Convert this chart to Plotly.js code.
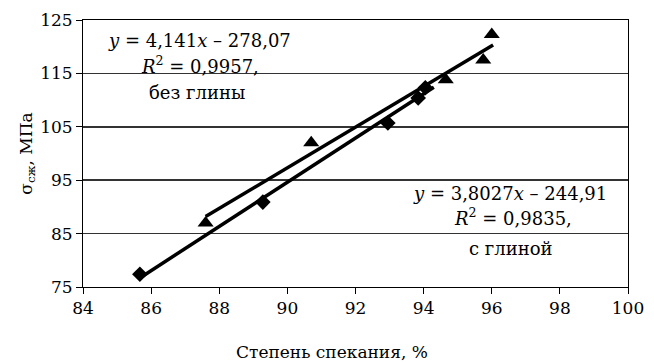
<!DOCTYPE html>
<html>
<head>
<meta charset="utf-8">
<script src="https://cdn.plot.ly/plotly-3.0.1.min.js"></script>
<style>html,body{margin:0;padding:0;background:#fff;}#chart{width:654px;height:362px;}</style>
</head>
<body>
<div id="chart"></div>
<script>
// Series: без глины (diamonds)
const xNoClay = [85.67, 89.28, 92.95, 93.84, 94.05];
const yNoClay = [77.4, 90.9, 105.7, 110.4, 112.3];
// Series: с глиной (triangles)
const xClay = [87.6, 90.7, 94.65, 95.75, 96.0];
const yClay = [87.0, 102.0, 113.8, 117.5, 122.3];
// Trend line endpoints
const trendNoClayX = [85.67, 94.3];
const trendNoClayY = [76.7, 112.4];
const trendClayX = [87.6, 96.04];
const trendClayY = [88.2, 120.3];
// Labels
const eqNoClay = ['<i>y</i> = 4,141<i>x</i> – 278,07', '<i>R</i><sup>2</sup> = 0,9957,', 'без глины'];
const eqClay = ['<i>y</i> = 3,8027<i>x</i> – 244,91', '<i>R</i><sup>2</sup> = 0,9835,', 'с глиной'];
const xTickVals = [84, 86, 88, 90, 92, 94, 96, 98, 100];
const yTickVals = [75, 85, 95, 105, 115, 125];
const xTitle = 'Степень спекания, %';
const yTitle = 'σ<sub>сж</sub>, МПа';

const FONT = 'DejaVu Serif';

const traces = [
  {x: trendNoClayX, y: trendNoClayY, mode: 'lines', line: {color: '#000', width: 3.5}, hoverinfo: 'skip'},
  {x: trendClayX, y: trendClayY, mode: 'lines', line: {color: '#000', width: 3.5}, hoverinfo: 'skip'},
  {x: xNoClay, y: yNoClay, mode: 'markers', marker: {symbol: 'diamond', size: 12, color: '#000'}},
  {x: xClay, y: yClay, mode: 'markers', marker: {symbol: 'triangle-up', size: 14, color: '#000'}}
];

const posNoClay = [[0.213, 0.925], [0.215, 0.831], [0.209, 0.727]];
const posClay = [[0.783, 0.352], [0.789, 0.262], [0.785, 0.146]];
const annotations = [];
eqNoClay.forEach((t, i) => annotations.push({text: t, xref: 'paper', yref: 'paper', x: posNoClay[i][0], y: posNoClay[i][1], showarrow: false, xanchor: 'center', yanchor: 'middle', font: {family: FONT, size: 18, color: '#000'}}));
eqClay.forEach((t, i) => annotations.push({text: t, xref: 'paper', yref: 'paper', x: posClay[i][0], y: posClay[i][1], showarrow: false, xanchor: 'center', yanchor: 'middle', font: {family: FONT, size: 18, color: '#000'}}));
annotations.push({text: xTitle, xref: 'paper', yref: 'paper', x: (332 - 83) / 545, y: -(352 - 287) / 267, showarrow: false, xanchor: 'center', yanchor: 'middle', font: {family: FONT, size: 17, color: '#000'}});

const layout = {
  width: 654, height: 362,
  margin: {l: 83, r: 26, t: 20, b: 75},
  paper_bgcolor: '#fff', plot_bgcolor: '#fff',
  showlegend: false,
  font: {family: FONT, size: 17, color: '#000'},
  xaxis: {
    range: [84, 100], tickvals: xTickVals, ticktext: xTickVals.map(String),
    showgrid: false, zeroline: false, showline: true, mirror: true,
    linecolor: '#000', linewidth: 1, ticks: 'outside', ticklen: 6, tickcolor: '#000',
    tickfont: {family: FONT, size: 17, color: '#000'}, fixedrange: true
  },
  yaxis: {
    range: [75, 125], tickvals: yTickVals, ticktext: yTickVals.map(String),
    showgrid: true, gridcolor: '#333', gridwidth: 1.5, zeroline: false,
    showline: true, mirror: true, linecolor: '#000', linewidth: 1,
    ticks: 'outside', ticklen: 6, tickcolor: '#000',
    tickfont: {family: FONT, size: 17, color: '#000'},
    title: {text: yTitle, font: {family: FONT, size: 17, color: '#000'}, standoff: 3},
    automargin: false, fixedrange: true
  },
  annotations: annotations
};

Plotly.newPlot('chart', traces, layout, {displayModeBar: false, staticPlot: true});
</script>
</body>
</html>
